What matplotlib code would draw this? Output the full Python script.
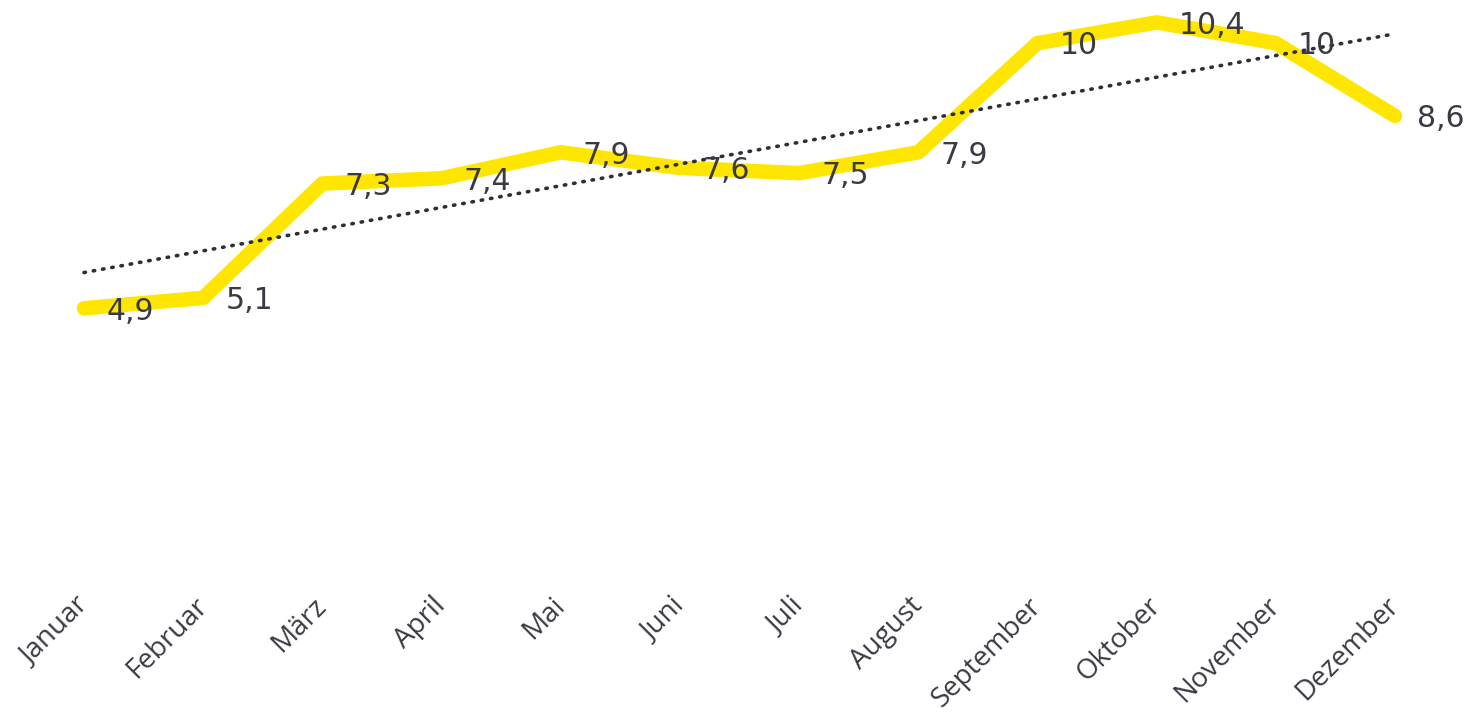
import matplotlib
matplotlib.use("Agg")
import matplotlib.pyplot as plt
import numpy as np

monate = ["Januar", "Februar", "März", "April", "Mai", "Juni",
          "Juli", "August", "September", "Oktober", "November", "Dezember"]
werte = [4.9, 5.1, 7.3, 7.4, 7.9, 7.6, 7.5, 7.9, 10.0, 10.4, 10.0, 8.6]

gelb = "#FFE600"
dunkel = "#2E2E38"

fig = plt.figure(figsize=(14.71, 7.15), dpi=100)
ax = fig.add_axes([0, 0.2126, 1, 0.7874])

x = np.arange(len(werte))
ax.plot(x, werte, color=gelb, lw=10.5, solid_capstyle="round",
        solid_joinstyle="round", zorder=2)

# linearer Trend
k, d = np.polyfit(x, werte, 1)
ax.plot(x, k * x + d, color=dunkel, lw=2.6, ls=(0, (0.4, 2.2)),
        dash_capstyle="round", zorder=3)

for xi, v in zip(x, werte):
    txt = f"{v:g}".replace(".", ",")
    ax.annotate(txt, (xi, v), xytext=(16, -2), textcoords="offset points",
                ha="left", va="center", fontsize=21.5, color="#3a3a44",
                family="DejaVu Sans", zorder=4)

ax.set_xlim(-0.705, 11.638)
ax.set_ylim(0, 10.83)
ax.set_xticks(x)
ax.set_xticklabels(monate, rotation=45, ha="right", va="center",
                   rotation_mode="anchor", fontsize=20, color="#3a3a44",
                   family="Open Sans")
ax.tick_params(axis="x", length=0, pad=28)
ax.set_yticks([])
for s in ax.spines.values():
    s.set_visible(False)

fig.savefig("out.png", dpi=100)
